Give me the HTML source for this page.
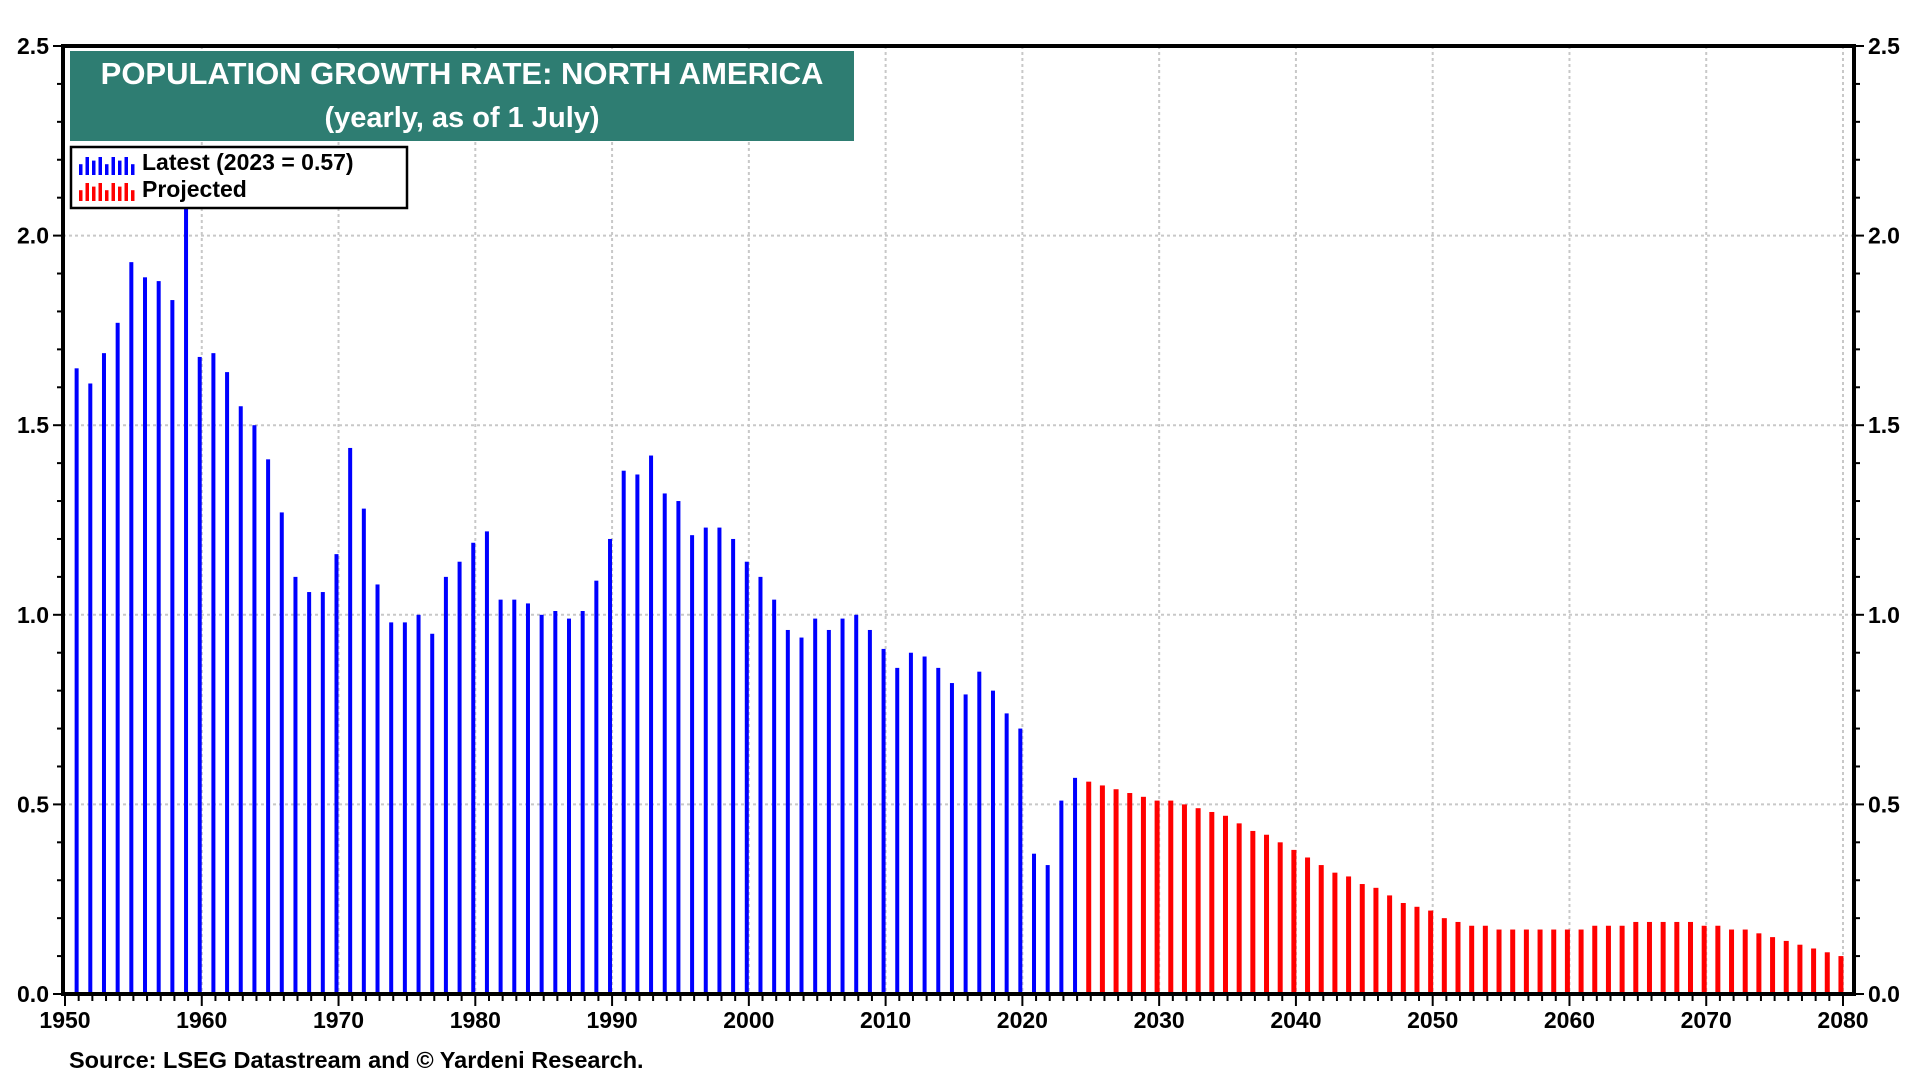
<!DOCTYPE html>
<html><head><meta charset="utf-8"><style>
html,body{margin:0;padding:0;background:#fff;}
svg{display:block;font-family:"Liberation Sans",Arial,sans-serif;font-weight:bold;}
</style></head><body>
<svg id="chart" width="1920" height="1080" viewBox="0 0 1920 1080">
<g id="grid"></g>
<g id="bars"></g>
<g id="axes"></g>
<rect x="70" y="51" width="784" height="90" fill="#2e7d72"/>
<text x="462" y="84" text-anchor="middle" fill="#fff" font-size="31">POPULATION GROWTH RATE: NORTH AMERICA</text>
<text x="462" y="127" text-anchor="middle" fill="#fff" font-size="29">(yearly, as of 1 July)</text>
<g>
<rect x="71" y="147" width="336" height="61" fill="#fff" stroke="#000" stroke-width="2.5"/>
<g id="legIcons"></g>
<text x="142" y="170" font-size="23">Latest (2023 = 0.57)</text>
<text x="142" y="197" font-size="23">Projected</text>
</g>
<text x="69" y="1068" font-size="23.5">Source: LSEG Datastream and © Yardeni Research.</text>
</svg>
<script>
const latestStart = 1950;
const latestValues = [1.65,1.61,1.69,1.77,1.93,1.89,1.88,1.83,2.22,1.68,1.69,1.64,1.55,1.50,1.41,1.27,1.10,1.06,1.06,1.16,1.44,1.28,1.08,0.98,0.98,1.00,0.95,1.10,1.14,1.19,1.22,1.04,1.04,1.03,1.00,1.01,0.99,1.01,1.09,1.20,1.38,1.37,1.42,1.32,1.30,1.21,1.23,1.23,1.20,1.14,1.10,1.04,0.96,0.94,0.99,0.96,0.99,1.00,0.96,0.91,0.86,0.90,0.89,0.86,0.82,0.79,0.85,0.80,0.74,0.70,0.37,0.34,0.51,0.57];
const projStart = 2024;
const projValues = [0.56,0.55,0.54,0.53,0.52,0.51,0.51,0.50,0.49,0.48,0.47,0.45,0.43,0.42,0.40,0.38,0.36,0.34,0.32,0.31,0.29,0.28,0.26,0.24,0.23,0.22,0.20,0.19,0.18,0.18,0.17,0.17,0.17,0.17,0.17,0.17,0.17,0.18,0.18,0.18,0.19,0.19,0.19,0.19,0.19,0.18,0.18,0.17,0.17,0.16,0.15,0.14,0.13,0.12,0.11,0.10];
const yTicks = [0,0.5,1.0,1.5,2.0,2.5];
const xTicks = [1950,1960,1970,1980,1990,2000,2010,2020,2030,2040,2050,2060,2070,2080];

const L=63,R=1854,T=46,B=994;
const X0=65,X1=1843;
const x = yr => X0 + (yr-1950)*(X1-X0)/130;
const y = v => B - v*(B-T)/2.5;
const NS="http://www.w3.org/2000/svg";
function mk(tag,attrs,parent){const e=document.createElementNS(NS,tag);for(const k in attrs)e.setAttribute(k,attrs[k]);parent.appendChild(e);return e;}
const grid=document.getElementById('grid'),bars=document.getElementById('bars'),axes=document.getElementById('axes');

yTicks.forEach(v=>{
  if(v>0&&v<2.5){const g=mk('line',{x1:L,x2:R,y1:y(v),y2:y(v),stroke:'#c8c8c8','stroke-width':2,'stroke-dasharray':'3,3'},grid);
  
  }
  const t1=mk('text',{x:L-14,y:y(v)+8,'text-anchor':'end','font-size':23},axes);t1.textContent=v.toFixed(1);
  
  
  const t2=mk('text',{x:R+14,y:y(v)+8,'text-anchor':'start','font-size':23},axes);t2.textContent=v.toFixed(1);
  
  
});
xTicks.forEach(yr=>{
  if(yr>1950){const g=mk('line',{x1:x(yr),x2:x(yr),y1:T,y2:B,stroke:'#c8c8c8','stroke-width':2,'stroke-dasharray':'3,3'},grid);
  
  }
  const t=mk('text',{x:x(yr),y:B+34,'text-anchor':'middle','font-size':23},axes);t.textContent=yr;
  
  
});
for(let i=0;i<=25;i++){const v=i/10;const len=(i%5==0)?10:6;
  mk('line',{x1:L-len,x2:L,y1:y(v),y2:y(v),stroke:'#000','stroke-width':2},axes);
  mk('line',{x1:R,x2:R+len,y1:y(v),y2:y(v),stroke:'#000','stroke-width':2},axes);}
for(let yr=1950;yr<=2080;yr++){const len=(yr%10==0)?12:7;
  mk('line',{x1:x(yr),x2:x(yr),y1:B,y2:B+len,stroke:'#000','stroke-width':2},axes);}

const off=0.85;
latestValues.forEach((v,i)=>{const cx=x(latestStart+i+off);
  const r=mk('rect',{x:cx-2,y:y(v),width:4,height:B-y(v),fill:'#0000ff'},bars);
  
  });
projValues.forEach((v,i)=>{const cx=x(projStart+i+off);
  const r=mk('rect',{x:cx-2.5,y:y(v),width:5,height:B-y(v),fill:'#ff0000'},bars);
  
  });

const fr=mk('rect',{x:L,y:T,width:R-L,height:B-T,fill:'none',stroke:'#000','stroke-width':4},axes);



const li=document.getElementById('legIcons');
const hs=[0.6,1,0.8,1,0.6,1,0.8,1,0.6];
hs.forEach((h,i)=>{
  mk('rect',{x:79+i*6.5,y:175-18*h,width:3.5,height:18*h,fill:'#0000ff'},li);
  mk('rect',{x:79+i*6.5,y:201-18*h,width:3.5,height:18*h,fill:'#ff0000'},li);
});
</script>
</body></html>
